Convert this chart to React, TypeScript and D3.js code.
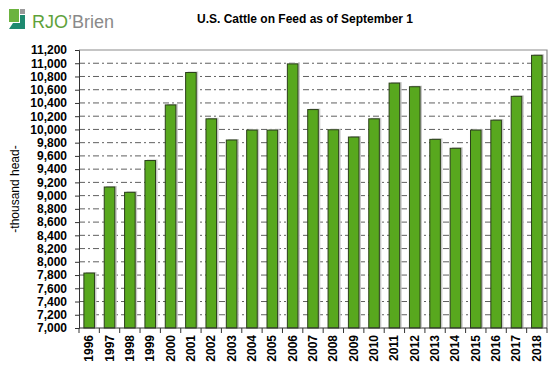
import React, { useRef, useEffect } from 'react';
import * as d3 from 'd3';

const years = [
  '1996', '1997', '1998', '1999', '2000', '2001', '2002', '2003', '2004', '2005', '2006', '2007',
  '2008', '2009', '2010', '2011', '2012', '2013', '2014', '2015', '2016', '2017', '2018',
];
const cattleOnFeed = [
  7830, 9130, 9050, 9530, 10370, 10860, 10160, 9840, 9990, 9990, 10990, 10300,
  9995, 9885, 10160, 10700, 10645, 9850, 9715, 9990, 10140, 10500, 11120,
];
const yTicks = d3.range(7000, 11201, 200);

const App = () => {
  const svgRef = useRef<SVGSVGElement>(null);

  useEffect(() => {
    const w = 555;
    const h = 370;
    const m = { top: 50, right: 8, bottom: 42, left: 79 };
    const svg = d3.select(svgRef.current).attr('width', w).attr('height', h);
    svg.selectAll('*').remove();
    const font = 'Liberation Sans, Arial, sans-serif';

    const x = d3
      .scaleBand()
      .domain(years)
      .range([m.left, w - m.right])
      .paddingInner(0.48)
      .paddingOuter(0.24);
    const y = d3.scaleLinear().domain([7000, 11200]).range([h - m.bottom, m.top]);

    // logo
    const logo = svg.append('g');
    logo.append('rect').attr('x', 9).attr('y', 9).attr('width', 10).attr('height', 13).attr('fill', '#6cb33f');
    logo.append('rect').attr('x', 20).attr('y', 9).attr('width', 5).attr('height', 5).attr('fill', '#9a9a9a');
    logo.append('path').attr('d', 'M9,29 L25,29 L25,15 L20,15 L20,23 L13,23 Z').attr('fill', '#1f8a70');
    const lt = logo.append('text').attr('x', 32).attr('y', 28).style('font-family', font).style('font-size', '18px');
    lt.append('tspan').attr('fill', '#5ea23a').text('RJO');
    lt.append('tspan').attr('fill', '#8a8a8a').text('\u2019Brien');

    // title
    svg.append('text')
      .attr('x', 305).attr('y', 23)
      .attr('text-anchor', 'middle')
      .style('font-family', font).style('font-size', '12px').style('font-weight', 'bold')
      .text('U.S. Cattle on Feed as of September 1');

    // gridlines
    svg.append('g')
      .selectAll('line')
      .data(yTicks.slice(1, -1))
      .join('line')
      .attr('x1', m.left).attr('x2', w - m.right)
      .attr('y1', (d) => y(d)).attr('y2', (d) => y(d))
      .attr('stroke', '#606060')
      .attr('stroke-dasharray', '6,3,2,3');

    // plot border top / right
    svg.append('path')
      .attr('d', `M${m.left},${y(11200)}H${w - m.right}V${y(7000)}`)
      .attr('fill', 'none').attr('stroke', '#8c8c8c').attr('stroke-width', 1.2);

    // bars with shadow
    svg.append('g')
      .selectAll('rect')
      .data(cattleOnFeed)
      .join('rect')
      .attr('x', (d, i) => x(years[i])! + 2)
      .attr('y', (d) => y(d) - 1)
      .attr('width', x.bandwidth())
      .attr('height', (d) => y(7000) - y(d))
      .attr('fill', '#c8c8c8');
    svg.append('g')
      .selectAll('rect')
      .data(cattleOnFeed)
      .join('rect')
      .attr('x', (d, i) => x(years[i])!)
      .attr('y', (d) => y(d))
      .attr('width', x.bandwidth())
      .attr('height', (d) => y(7000) - y(d))
      .attr('fill', '#58a81e')
      .attr('stroke', '#2b3f1a')
      .attr('stroke-width', 1);

    // y axis
    const yAxis = d3.axisLeft(y).tickValues(yTicks).tickSize(4).tickPadding(8).tickFormat(d3.format(','));
    const ya = svg.append('g').attr('transform', `translate(${m.left},0)`).call(yAxis);
    ya.select('.domain').attr('stroke', '#333');
    ya.selectAll('line').attr('stroke', '#333');
    ya.selectAll('text').style('font-family', font).style('font-size', '12px').style('font-weight', 'bold').attr('fill', '#000');

    // x axis
    const xa = svg.append('g').attr('transform', `translate(0,${y(7000)})`);
    xa.append('line').attr('x1', m.left).attr('x2', w - m.right).attr('stroke', '#333');
    const step = x.step();
    xa.selectAll('line.tk')
      .data(d3.range(years.length + 1))
      .join('line')
      .attr('class', 'tk')
      .attr('x1', (i) => m.left + i * step).attr('x2', (i) => m.left + i * step)
      .attr('y1', 0).attr('y2', 5)
      .attr('stroke', '#333');
    xa.selectAll('text')
      .data(years)
      .join('text')
      .attr('transform', (d) => `translate(${x(d)! + x.bandwidth() / 2 + 4},7) rotate(-90)`)
      .attr('text-anchor', 'end')
      .style('font-family', font).style('font-size', '12px').style('font-weight', 'bold')
      .text((d) => d);

    // y label
    svg.append('text')
      .attr('transform', `translate(19,${(y(7000) + y(11200)) / 2}) rotate(-90)`)
      .attr('text-anchor', 'middle')
      .style('font-family', font).style('font-size', '12px')
      .text('-thousand head-');
  }, []);

  return (
    <div>
      <svg ref={svgRef} style={{ position: 'absolute', left: 0, top: 0, background: '#fff' }}></svg>
    </div>
  );
};

export default App;
